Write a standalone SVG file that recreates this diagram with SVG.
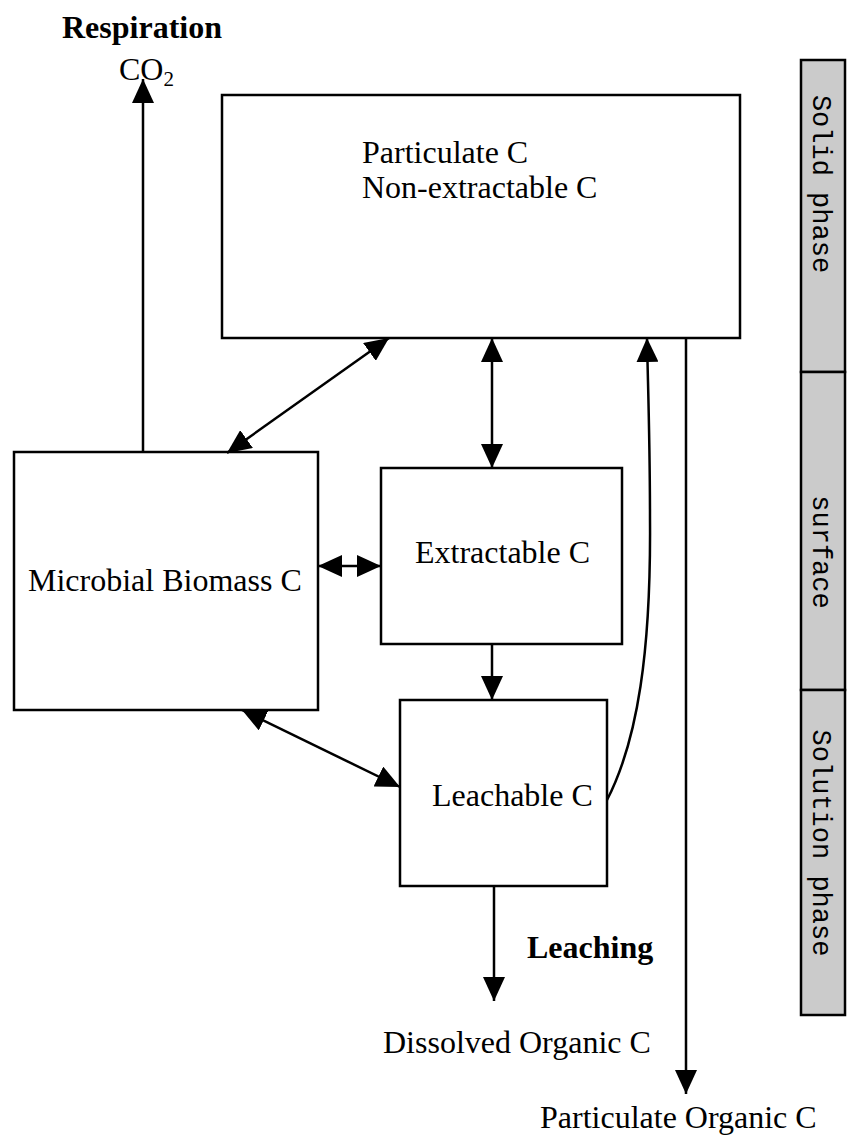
<svg xmlns="http://www.w3.org/2000/svg" width="847" height="1137" viewBox="0 0 847 1137">
<style>
.box{fill:#fff;stroke:#000;stroke-width:2.5}
.ln{fill:none;stroke:#000;stroke-width:2.5}
.t{font-family:"Liberation Serif","Times New Roman",serif;font-size:32px;fill:#000}
.b{font-family:"Liberation Serif","Times New Roman",serif;font-size:32px;font-weight:bold;fill:#000}
.s{font-family:"Liberation Serif","Times New Roman",serif;font-size:32px;fill:#000}
.m{font-family:"Liberation Mono","Courier New",monospace;font-size:27px;fill:#000}
.bar{fill:#cbcbcb;stroke:#000;stroke-width:2.5}
</style>
<defs>
<marker id="ah" markerUnits="userSpaceOnUse" markerWidth="26" markerHeight="22" refX="24" refY="11" orient="auto-start-reverse">
<path d="M0,0 L24,11 L0,22 Z" fill="#000"/>
</marker>
</defs>
<g id="sidebar">
<rect class="bar" x="801" y="60" width="44" height="312"/>
<rect class="bar" x="801" y="372" width="44" height="318"/>
<rect class="bar" x="801" y="690" width="44" height="325"/>
<text class="m" transform="translate(813,184) rotate(90)" text-anchor="middle">Solid phase</text>
<text class="m" transform="translate(813,552) rotate(90)" text-anchor="middle">surface</text>
<text class="m" transform="translate(813,843) rotate(90)" text-anchor="middle">Solution phase</text>
</g>
<g id="respiration">
<text class="b" x="62" y="38">Respiration</text>
<text class="t" x="119" y="80">CO<tspan font-size="21" dy="6">2</tspan></text>
</g>
<g id="particulate">
<rect class="box" x="222" y="95" width="518" height="243"/>
<text class="t" x="362" y="163">Particulate C</text>
<text class="t" x="362" y="198">Non-extractable C</text>
</g>
<g id="microbial">
<rect class="box" x="14" y="452" width="304" height="258"/>
<text class="t" x="28" y="591">Microbial Biomass C</text>
</g>
<g id="extractable">
<rect class="box" x="381" y="468" width="241" height="176"/>
<text class="t" x="415" y="563">Extractable C</text>
</g>
<g id="leachable">
<rect class="box" x="400" y="700" width="207" height="186"/>
<text class="t" x="432" y="806">Leachable C</text>
</g>
<g id="connectors">
<line class="ln" x1="143" y1="452" x2="143" y2="79" marker-end="url(#ah)"/>
<line class="ln" x1="227" y1="453" x2="389" y2="338" marker-start="url(#ah)" marker-end="url(#ah)"/>
<line class="ln" x1="492" y1="338" x2="492" y2="468" marker-start="url(#ah)" marker-end="url(#ah)"/>
<line class="ln" x1="318" y1="566" x2="381" y2="566" marker-start="url(#ah)" marker-end="url(#ah)"/>
<line class="ln" x1="492" y1="644" x2="492" y2="700" marker-end="url(#ah)"/>
<line class="ln" x1="242" y1="710" x2="400" y2="787" marker-start="url(#ah)" marker-end="url(#ah)"/>
<path class="ln" d="M607,800 C638,740 651,650 650,520 C650,440 648,390 647,338" marker-end="url(#ah)"/>
<line class="ln" x1="686" y1="338" x2="686" y2="1094" marker-end="url(#ah)"/>
<line class="ln" x1="494" y1="886" x2="494" y2="1001" marker-end="url(#ah)"/>
</g>
<g id="labels">
<text class="b" x="527" y="958">Leaching</text>
<text class="s" x="383" y="1053">Dissolved Organic C</text>
<text class="s" x="540" y="1128">Particulate Organic C</text>
</g>
</svg>
